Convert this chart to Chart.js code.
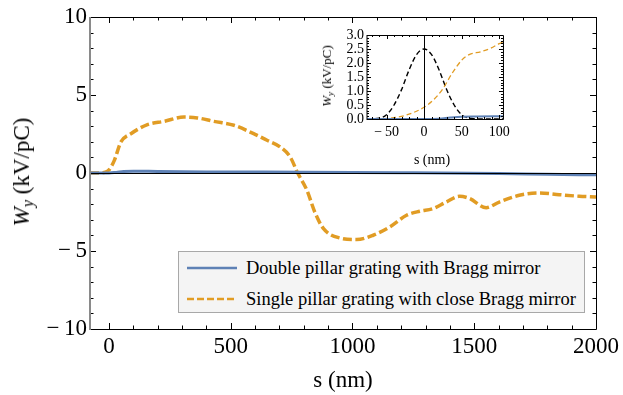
<!DOCTYPE html>
<html>
<head>
<meta charset="utf-8">
<script src="https://cdn.jsdelivr.net/npm/chart.js@4.4.1/dist/chart.umd.min.js"></script>
<style>
  body { margin: 0; background: #fff; font-family: 'Liberation Serif', serif; }
  #wrap { position: relative; width: 623px; height: 395px; overflow: hidden; }
  #main { position: absolute; left: 0; top: 0; }
  #inset { position: absolute; left: 300px; top: 22px; }
  .lbl { position: absolute; white-space: nowrap; color: #000; transform: translate(-50%, -50%); }
  .rot { transform: translate(-50%, -50%) rotate(-90deg); }
  .lbl sub { font-size: 70%; font-style: italic; vertical-align: -0.25em; line-height: 0; }
  #legend { position: absolute; left: 178px; top: 251px; width: 407px; height: 62px;
            background: #f4f4f4; border: 1px solid #a8a8a8; box-sizing: border-box;
            font-size: 18.5px; color: #000; }
  .row { position: absolute; left: 8px; height: 22px; display: flex; align-items: center; }
  .row svg { margin-right: 9px; }
</style>
</head>
<body>
<div id="wrap">
  <canvas id="main" width="623" height="395"></canvas>
  <canvas id="inset" width="215" height="150"></canvas>
  <div class="lbl" style="left:343px;top:380px;font-size:23px;">s (nm)</div>
  <div class="lbl rot" style="left:22px;top:172px;font-size:23px;"><i>W</i><sub>y</sub> (kV/pC)</div>
  <div class="lbl" style="left:432px;top:160px;font-size:14px;">s (nm)</div>
  <div class="lbl rot" style="left:327px;top:76px;font-size:13px;"><i>W</i><sub>y</sub> (kV/pC)</div>
  <div id="legend"></div>
</div>
<script>
// ── Data ─────────────────────────────────────────────────────
const seriesNames = ['Double pillar grating with Bragg mirror', 'Single pillar grating with close Bragg mirror'];

const blueS  = [-78, 0, 30, 60, 100, 200, 400, 800, 1200, 1600, 1800, 2000];
const blueWy = [0, 0, 0.04, 0.09, 0.12, 0.1, 0.07, 0.05, 0.02, -0.03, -0.08, -0.12];

const orangeS  = [-78, -40, -15, 0, 22, 49, 90, 158, 226, 308, 363, 431, 513, 594, 649, 703, 744, 775, 813, 845, 881, 949, 1017,
                  1085, 1153, 1222, 1276, 1331, 1385, 1440, 1481, 1549, 1603, 1685, 1767, 1849, 1931, 2000];
const orangeWy = [0, 0, 0.05, 0.2, 0.81, 1.99, 2.52, 3.1, 3.31, 3.59, 3.53, 3.31, 3.06, 2.52, 2.1, 1.67, 1.03, 0, -1.11, -2.5, -3.57, -4.17, -4.27,
                  -3.99, -3.46, -2.71, -2.45, -2.28, -1.86, -1.49, -1.64, -2.22, -1.86, -1.43, -1.28, -1.39, -1.49, -1.54];

// inset: zoom on -76..105 nm
const insetBlueS  = [-76, 0, 20, 35, 50, 70, 105];
const insetBlueWy = [0, 0, 0.01, 0.05, 0.08, 0.09, 0.1];

const insetOrangeS  = [-76, -50, -25, 0, 12, 25, 37, 50, 60, 75, 88, 100, 105];
const insetOrangeWy = [0, 0.02, 0.13, 0.42, 0.67, 1.08, 1.62, 2.1, 2.3, 2.4, 2.52, 2.69, 2.75];

const bunchS  = [-76, -60, -50, -40, -30, -20, -10, 0, 10, 20, 30, 40, 50, 60, 76, 105];
const bunchWy = [0, 0.03, 0.15, 0.5, 1.05, 1.75, 2.3, 2.5, 2.3, 1.75, 1.05, 0.5, 0.15, 0.03, 0, 0];

const mainXTicks  = [0, 500, 1000, 1500, 2000];
const mainYTicks  = [-10, -5, 0, 5, 10];
const insetXTicks = [-50, 0, 50, 100];
const insetYTicks = [0, 0.5, 1, 1.5, 2, 2.5, 3];

const BLUE = '#5e81b5';
const ORANGE = '#e19c24';
const FONT = 'Liberation Serif';

const pts = (xs, ys) => xs.map((x, i) => ({ x, y: ys[i] }));
const fmtMinus = v => v < 0 ? '\u2212\u2009' + Math.abs(v) : String(v);

// ── Frame + inward ticks ─────────────────────────────────────
function framePlugin(cfg) {
  return {
    id: 'frame',
    afterDatasetsDraw(chart) {
      const { ctx, chartArea: a, scales: { x, y } } = chart;
      ctx.save();
      ctx.lineWidth = 1;
      ctx.strokeStyle = '#000';
      // zero axes
      ctx.beginPath();
      const y0 = Math.round(y.getPixelForValue(0)) + 0.5;
      ctx.moveTo(a.left, y0); ctx.lineTo(a.right, y0);
      if (cfg.vAxis) {
        const x0 = Math.round(x.getPixelForValue(0)) + 0.5;
        ctx.moveTo(x0, a.top); ctx.lineTo(x0, a.bottom);
      }
      ctx.stroke();

      const tick = (px, len, vertical) => {
        if (vertical) {
          ctx.moveTo(px, a.bottom); ctx.lineTo(px, a.bottom - len);
          ctx.moveTo(px, a.top); ctx.lineTo(px, a.top + len);
        } else {
          ctx.moveTo(a.left, px); ctx.lineTo(a.left + len, px);
          ctx.moveTo(a.right, px); ctx.lineTo(a.right - len, px);
        }
      };
      ctx.beginPath();
      for (let v = cfg.xMinorFrom; v <= x.max + 1e-6; v += cfg.xMinor) {
        if (v < x.min) continue;
        const major = cfg.xMajor.some(m => Math.abs(m - v) < 1e-6);
        tick(Math.round(x.getPixelForValue(v)) + 0.5, major ? cfg.majorLen : cfg.minorLen, true);
      }
      for (let v = y.min; v <= y.max + 1e-6; v += cfg.yMinor) {
        const major = cfg.yMajor.some(m => Math.abs(m - v) < 1e-6);
        tick(Math.round(y.getPixelForValue(v)) + 0.5, major ? cfg.majorLen : cfg.minorLen, false);
      }
      ctx.stroke();

      // frame
      ctx.beginPath();
      ctx.moveTo(a.left, a.bottom + 0.5); ctx.lineTo(a.right + 0.5, a.bottom + 0.5);
      ctx.lineTo(a.right + 0.5, a.top + 0.5); ctx.lineTo(a.left, a.top + 0.5);
      ctx.stroke();
      ctx.strokeStyle = cfg.leftColor;
      ctx.lineWidth = cfg.leftWidth;
      ctx.beginPath();
      ctx.moveTo(a.left, a.top); ctx.lineTo(a.left, a.bottom + 1);
      ctx.stroke();
      ctx.restore();
    }
  };
}

// ── Main chart ───────────────────────────────────────────────
const mainChart = new Chart(document.getElementById('main'), {
  type: 'line',
  data: {
    datasets: [
      { label: seriesNames[0], data: pts(blueS, blueWy), borderColor: BLUE, borderWidth: 3,
        pointRadius: 0, cubicInterpolationMode: 'monotone' },
      { label: seriesNames[1], data: pts(orangeS, orangeWy), borderColor: ORANGE, borderWidth: 3.5,
        borderDash: [9, 3.5], pointRadius: 0, cubicInterpolationMode: 'monotone' }
    ]
  },
  options: {
    responsive: false,
    animation: false,
    events: [],
    layout: { padding: { left: 0, right: 27, top: 17, bottom: 0 }, autoPadding: false },
    plugins: { legend: { display: false }, tooltip: { enabled: false } },
    scales: {
      x: {
        type: 'linear', min: -78, max: 2000,
        afterBuildTicks: s => { s.ticks = mainXTicks.map(v => ({ value: v })); },
        afterFit: s => { s.height = 66; },
        ticks: { color: '#000', font: { family: FONT, size: 23 }, padding: 4, maxRotation: 0, autoSkip: false,
                 callback: fmtMinus },
        grid: { display: false, drawTicks: false },
        border: { display: false }
      },
      y: {
        min: -10, max: 10,
        afterBuildTicks: s => { s.ticks = mainYTicks.map(v => ({ value: v })); },
        afterFit: s => { s.width = 90; },
        ticks: { color: '#000', font: { family: FONT, size: 23 }, padding: 3, autoSkip: false, callback: fmtMinus },
        grid: { display: false, drawTicks: false },
        border: { display: false }
      }
    }
  },
  plugins: [framePlugin({ xMinorFrom: 0, xMinor: 100, xMajor: mainXTicks, yMinor: 1, yMajor: mainYTicks,
                          majorLen: 6, minorLen: 3.5, leftColor: '#8a8a8a', leftWidth: 2, vAxis: false })]
});

// ── Inset chart ──────────────────────────────────────────────
const insetChart = new Chart(document.getElementById('inset'), {
  type: 'line',
  data: {
    datasets: [
      { data: pts(insetBlueS, insetBlueWy), borderColor: BLUE, borderWidth: 2,
        pointRadius: 0, cubicInterpolationMode: 'monotone' },
      { data: pts(insetOrangeS, insetOrangeWy), borderColor: ORANGE, borderWidth: 1.3,
        borderDash: [5, 3], pointRadius: 0, cubicInterpolationMode: 'monotone' },
      { data: pts(bunchS, bunchWy), borderColor: '#000', borderWidth: 1.4,
        borderDash: [5, 3], pointRadius: 0, cubicInterpolationMode: 'monotone' }
    ]
  },
  options: {
    responsive: false,
    animation: false,
    events: [],
    layout: { padding: { left: 0, right: 10, top: 13, bottom: 0 }, autoPadding: false },
    plugins: { legend: { display: false }, tooltip: { enabled: false } },
    scales: {
      x: {
        type: 'linear', min: -76, max: 105,
        afterBuildTicks: s => { s.ticks = insetXTicks.map(v => ({ value: v })); },
        afterFit: s => { s.height = 53; },
        ticks: { color: '#000', font: { family: FONT, size: 14 }, padding: 5, maxRotation: 0, autoSkip: false, callback: fmtMinus },
        grid: { display: false, drawTicks: false },
        border: { display: false }
      },
      y: {
        min: 0, max: 3,
        afterBuildTicks: s => { s.ticks = insetYTicks.map(v => ({ value: v })); },
        afterFit: s => { s.width = 67; },
        ticks: { color: '#000', font: { family: FONT, size: 14 }, padding: 3, autoSkip: false, callback: v => v.toFixed(1) },
        grid: { display: false, drawTicks: false },
        border: { display: false }
      }
    }
  },
  plugins: [framePlugin({ xMinorFrom: -70, xMinor: 10, xMajor: insetXTicks, yMinor: 0.1, yMajor: insetYTicks,
                          majorLen: 4, minorLen: 2, leftColor: '#000', leftWidth: 1, vAxis: true })]
});

// ── Legend ───────────────────────────────────────────────────
const legend = document.getElementById('legend');
mainChart.data.datasets.forEach((ds, i) => {
  const dash = ds.borderDash ? `stroke-dasharray="7 3"` : '';
  legend.insertAdjacentHTML('beforeend', `
    <div class="row" style="top:${5 + i * 31}px">
      <svg width="50" height="6"><line x1="0" y1="3" x2="50" y2="3" stroke="${ds.borderColor}" stroke-width="2.5" ${dash}/></svg>
      <span>${ds.label}</span>
    </div>`);
});
</script>
</body>
</html>
